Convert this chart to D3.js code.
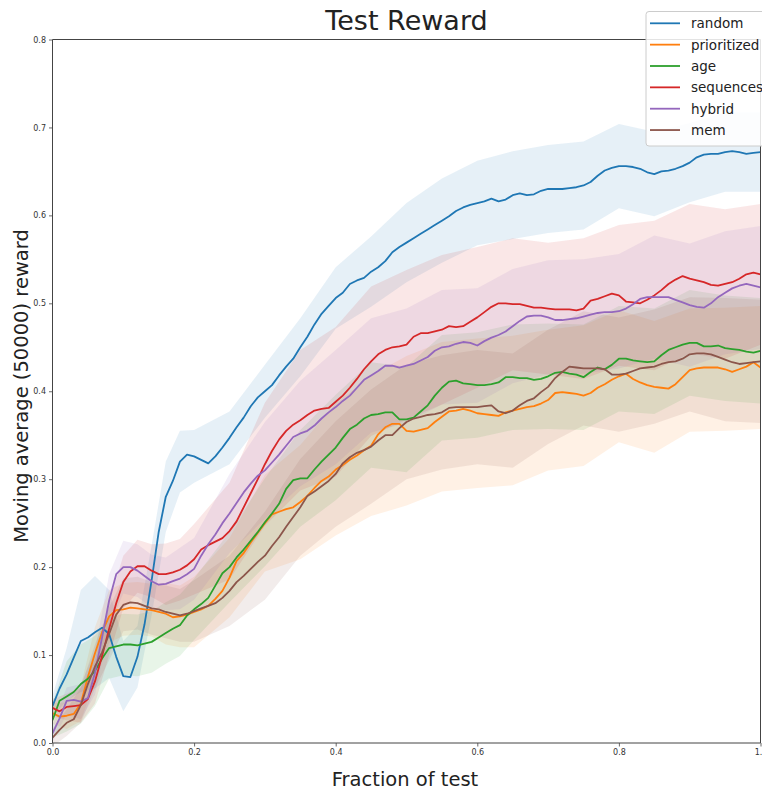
<!DOCTYPE html>
<html>
<head>
<meta charset="utf-8">
<script src="https://cdn.jsdelivr.net/npm/d3@7"></script>
<style>
  html, body { margin: 0; padding: 0; background: #fff; }
  svg { display: block; font-family: "DejaVu Sans", sans-serif; }
</style>
</head>
<body>
<svg id="chart" width="762" height="790"></svg>
<script>
// ---------- DATA ----------
const seriesNames = ["random", "prioritized", "age", "sequences", "hybrid", "mem"];
const xTicks = [0.0, 0.2, 0.4, 0.6, 0.8, 1.0];
const yTicks = [0.0, 0.1, 0.2, 0.3, 0.4, 0.5, 0.6, 0.7, 0.8];

// fraction of test, step 0.01 (101 samples)
const fractions = d3.range(101).map(i => i / 100);

const random = [
0.042,0.062,0.078,0.097,0.116,0.12,0.126,0.131,0.124,0.098,
0.076,0.075,0.098,0.135,0.185,0.24,0.28,0.298,0.32,0.328,
0.326,0.322,0.318,0.326,0.336,0.347,0.359,0.37,0.383,0.393,
0.400,0.407,0.418,0.428,0.437,0.450,0.462,0.476,0.488,0.497,
0.506,0.512,0.522,0.526,0.529,0.536,0.541,0.548,0.558,0.564,
0.569,0.574,0.579,0.584,0.589,0.594,0.599,0.605,0.609,0.612,
0.614,0.616,0.619,0.616,0.618,0.623,0.625,0.623,0.624,0.628,
0.630,0.630,0.630,0.631,0.632,0.634,0.638,0.645,0.651,0.654,
0.656,0.656,0.655,0.653,0.649,0.647,0.650,0.651,0.653,0.656,
0.660,0.666,0.669,0.670,0.670,0.672,0.673,0.672,0.670,0.671,
0.672];

const prioritized = [
0.034,0.03,0.031,0.033,0.045,0.075,0.102,0.126,0.144,0.151,
0.152,0.154,0.153,0.152,0.151,0.149,0.147,0.143,0.144,0.146,
0.149,0.152,0.156,0.164,0.173,0.188,0.207,0.216,0.228,0.239,
0.25,0.26,0.263,0.266,0.268,0.274,0.281,0.29,0.298,0.303,
0.311,0.316,0.322,0.327,0.333,0.338,0.351,0.359,0.363,0.363,
0.355,0.354,0.356,0.358,0.365,0.371,0.377,0.378,0.38,0.378,
0.375,0.374,0.373,0.372,0.376,0.378,0.38,0.382,0.383,0.386,
0.39,0.398,0.399,0.398,0.397,0.395,0.398,0.404,0.408,0.413,
0.417,0.42,0.414,0.41,0.407,0.405,0.404,0.403,0.408,0.416,
0.424,0.426,0.427,0.427,0.427,0.425,0.422,0.425,0.428,0.433,
0.427];

const age = [
0.026,0.048,0.053,0.058,0.067,0.073,0.082,0.096,0.108,0.11,
0.112,0.112,0.111,0.113,0.115,0.12,0.125,0.13,0.134,0.145,
0.152,0.158,0.165,0.179,0.193,0.2,0.211,0.22,0.23,0.24,
0.251,0.261,0.272,0.289,0.299,0.301,0.301,0.311,0.32,0.328,
0.336,0.347,0.357,0.362,0.369,0.373,0.374,0.376,0.376,0.368,
0.368,0.37,0.377,0.384,0.395,0.404,0.411,0.412,0.409,0.408,
0.407,0.407,0.408,0.41,0.416,0.416,0.415,0.415,0.413,0.414,
0.417,0.421,0.422,0.42,0.419,0.416,0.422,0.427,0.425,0.43,
0.437,0.437,0.435,0.434,0.433,0.434,0.441,0.447,0.45,0.453,
0.455,0.455,0.451,0.451,0.452,0.449,0.448,0.447,0.445,0.444,
0.446];

const sequences = [
0.04,0.036,0.041,0.042,0.043,0.05,0.07,0.099,0.13,0.159,
0.183,0.195,0.201,0.201,0.196,0.192,0.192,0.194,0.197,0.202,
0.209,0.22,0.225,0.229,0.233,0.241,0.252,0.268,0.284,0.3,
0.317,0.332,0.345,0.355,0.362,0.367,0.373,0.378,0.38,0.381,
0.388,0.395,0.404,0.414,0.425,0.434,0.442,0.447,0.45,0.451,
0.453,0.462,0.466,0.466,0.468,0.47,0.474,0.473,0.474,0.479,
0.484,0.49,0.496,0.5,0.5,0.499,0.499,0.497,0.495,0.495,
0.494,0.493,0.493,0.493,0.492,0.494,0.503,0.505,0.508,0.511,
0.509,0.502,0.501,0.5,0.504,0.509,0.515,0.522,0.527,0.531,
0.528,0.526,0.524,0.521,0.52,0.522,0.524,0.528,0.533,0.535,
0.533];

const hybrid = [
0.011,0.028,0.048,0.049,0.047,0.051,0.08,0.12,0.162,0.192,
0.2,0.2,0.196,0.19,0.184,0.18,0.181,0.184,0.187,0.192,
0.198,0.213,0.226,0.237,0.25,0.261,0.273,0.285,0.295,0.304,
0.31,0.319,0.328,0.338,0.348,0.352,0.355,0.361,0.369,0.376,
0.382,0.389,0.395,0.404,0.413,0.418,0.423,0.429,0.429,0.427,
0.429,0.431,0.435,0.439,0.446,0.45,0.451,0.454,0.456,0.455,
0.452,0.457,0.461,0.464,0.468,0.474,0.48,0.485,0.486,0.486,
0.484,0.481,0.481,0.482,0.483,0.485,0.487,0.489,0.49,0.49,
0.491,0.494,0.499,0.505,0.507,0.507,0.507,0.507,0.504,0.501,
0.498,0.496,0.495,0.5,0.507,0.512,0.517,0.52,0.522,0.52,
0.518];

const mem = [
0.006,0.015,0.023,0.027,0.043,0.067,0.087,0.103,0.124,0.146,
0.157,0.16,0.159,0.156,0.153,0.152,0.149,0.147,0.145,0.147,
0.15,0.153,0.156,0.159,0.165,0.173,0.183,0.19,0.198,0.206,
0.213,0.224,0.234,0.246,0.257,0.268,0.281,0.286,0.292,0.298,
0.306,0.318,0.325,0.33,0.333,0.337,0.344,0.35,0.35,0.358,
0.365,0.369,0.371,0.373,0.374,0.376,0.381,0.382,0.382,0.382,
0.382,0.383,0.384,0.377,0.375,0.378,0.384,0.389,0.392,0.399,
0.405,0.415,0.422,0.428,0.427,0.426,0.426,0.426,0.425,0.419,
0.419,0.42,0.423,0.426,0.427,0.428,0.431,0.433,0.434,0.437,
0.442,0.443,0.443,0.442,0.439,0.436,0.433,0.431,0.432,0.433,
0.434];

// spread (half-width of shaded band) sampled at these fractions
const bandFractions = [0,0.02,0.04,0.06,0.08,0.1,0.12,0.14,0.16,0.18,0.2,0.25,0.3,0.35,0.4,0.45,0.5,0.55,0.6,0.65,0.7,0.75,0.8,0.85,0.9,0.95,1.0];
const randomSpread      = [0.012,0.03,0.058,0.064,0.05,0.04,0.035,0.04,0.04,0.035,0.03,0.03,0.03,0.033,0.035,0.04,0.045,0.048,0.048,0.05,0.05,0.05,0.048,0.048,0.045,0.045,0.045];
const prioritizedSpread = [0.012,0.015,0.02,0.03,0.03,0.03,0.03,0.03,0.035,0.035,0.04,0.045,0.055,0.065,0.075,0.08,0.085,0.085,0.085,0.085,0.08,0.08,0.075,0.075,0.07,0.07,0.07];
const ageSpread         = [0.02,0.04,0.045,0.04,0.035,0.035,0.035,0.035,0.035,0.035,0.035,0.04,0.05,0.055,0.06,0.06,0.06,0.06,0.06,0.06,0.06,0.06,0.06,0.06,0.06,0.06,0.06];
const sequencesSpread   = [0.01,0.015,0.02,0.025,0.03,0.03,0.03,0.03,0.035,0.035,0.04,0.055,0.07,0.08,0.085,0.085,0.085,0.085,0.08,0.075,0.075,0.08,0.08,0.085,0.085,0.085,0.08];
const hybridSpread      = [0.01,0.015,0.02,0.025,0.03,0.03,0.03,0.03,0.03,0.035,0.035,0.045,0.055,0.06,0.065,0.065,0.065,0.065,0.065,0.065,0.065,0.065,0.065,0.07,0.07,0.07,0.07];
const memSpread         = [0.01,0.015,0.02,0.025,0.03,0.03,0.03,0.03,0.03,0.03,0.035,0.04,0.05,0.055,0.06,0.065,0.065,0.065,0.065,0.065,0.065,0.065,0.065,0.065,0.065,0.07,0.07];

const colors = ["#1f77b4", "#ff7f0e", "#2ca02c", "#d62728", "#9467bd", "#8c564b"];

// ---------- CHART ----------
const seriesValues = [random, prioritized, age, sequences, hybrid, mem];
const seriesSpread = [randomSpread, prioritizedSpread, ageSpread, sequencesSpread, hybridSpread, memSpread];

const svg = d3.select("#chart");
const L = 52.5, R = 760.5, T = 39.5, B = 743;
const x = d3.scaleLinear().domain([0, 1]).range([L, R]);
const y = d3.scaleLinear().domain([0, 0.8]).range([B, T]);

svg.append("defs").append("clipPath").attr("id", "plotclip")
  .append("rect").attr("x", L).attr("y", T).attr("width", R - L).attr("height", B - T);

const plot = svg.append("g").attr("clip-path", "url(#plotclip)");

// bands
const area = d3.area().x(d => x(d.f)).y0(d => y(d.lo)).y1(d => y(d.hi));
seriesValues.forEach((vals, si) => {
  const sp = seriesSpread[si];
  const pts = bandFractions.map((f, i) => {
    const m = vals[Math.round(f * 100)];
    return { f, lo: m - sp[i], hi: m + sp[i] };
  });
  plot.append("path").datum(pts)
    .attr("d", area)
    .attr("fill", colors[si])
    .attr("fill-opacity", 0.11)
    .attr("stroke", "none");
});

// lines
const line = d3.line().x((d, i) => x(fractions[i])).y(d => y(d));
seriesValues.forEach((vals, si) => {
  plot.append("path").datum(vals)
    .attr("d", line)
    .attr("fill", "none")
    .attr("stroke", colors[si])
    .attr("stroke-width", 1.8)
    .attr("stroke-linejoin", "round");
});

// axes
const xAxis = d3.axisBottom(x).tickValues(xTicks).tickFormat(d3.format(".1f"))
  .tickSize(3.5).tickPadding(3).tickSizeOuter(0);
const yAxis = d3.axisLeft(y).tickValues(yTicks).tickFormat(d3.format(".1f"))
  .tickSize(3.5).tickPadding(3).tickSizeOuter(0);

const gx = svg.append("g").attr("transform", `translate(0,${B})`).call(xAxis);
const gy = svg.append("g").attr("transform", `translate(${L},0)`).call(yAxis);
[gx, gy].forEach(g => {
  g.select(".domain").remove();
  g.selectAll(".tick line").attr("stroke", "#444").attr("stroke-width", 0.8);
  g.selectAll(".tick text").attr("fill", "#333").style("font-size", "8px")
    .style("font-family", "DejaVu Sans, sans-serif");
});

// spines
const spine = svg.append("g").attr("stroke", "#444").attr("stroke-width", 1).attr("fill", "none");
spine.append("line").attr("x1", L).attr("x2", L).attr("y1", T).attr("y2", B);
spine.append("line").attr("x1", L).attr("x2", R).attr("y1", B).attr("y2", B);
spine.append("line").attr("x1", R).attr("x2", R).attr("y1", T).attr("y2", B);
spine.append("line").attr("x1", L).attr("x2", R).attr("y1", T).attr("y2", T);

// title & labels
svg.append("text").attr("x", (L + R) / 2).attr("y", 30).attr("text-anchor", "middle")
  .style("font-size", "27px").attr("fill", "#222").text("Test Reward");
svg.append("text").attr("x", 405).attr("y", 786).attr("text-anchor", "middle")
  .style("font-size", "19.5px").attr("fill", "#222").text("Fraction of test");
svg.append("text").attr("transform", "translate(28,386) rotate(-90)").attr("text-anchor", "middle")
  .style("font-size", "19.5px").attr("fill", "#222").text("Moving average (50000) reward");

// legend
const lg = svg.append("g").attr("transform", "translate(646,11.5)");
lg.append("rect").attr("x", 0).attr("y", 0).attr("width", 130).attr("height", 134.5)
  .attr("rx", 3).attr("fill", "#fff").attr("fill-opacity", 0.85)
  .attr("stroke", "#ccc").attr("stroke-width", 1);
seriesNames.forEach((name, i) => {
  const yy = 11.8 + i * 21.35;
  lg.append("line").attr("x1", 4).attr("x2", 34).attr("y1", yy).attr("y2", yy)
    .attr("stroke", colors[i]).attr("stroke-width", 1.8);
  lg.append("text").attr("x", 45).attr("y", yy).attr("dy", "0.36em")
    .style("font-size", "13.5px").attr("fill", "#222").text(name);
});
</script>
</body>
</html>
